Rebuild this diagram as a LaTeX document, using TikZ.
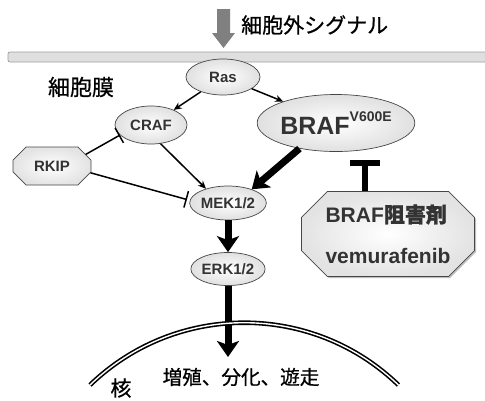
\documentclass[tikz,border=0pt]{standalone}
\usepackage{fontspec}
\setmainfont{Liberation Sans}
\newfontfamily\jp{Noto Sans CJK JP}[FakeBold=0.8]
\newfontfamily\jpb{Noto Sans CJK JP}[FakeBold=1.2]
\usetikzlibrary{shapes.geometric,shapes.misc,arrows.meta,shadows,calc}
\begin{document}
\begin{tikzpicture}[x=1pt,y=-1pt,
  mol/.style={ellipse, draw=gray!55!black, line width=0.7pt, inner color=white, outer color=gray!24,
    text=black!80, font=\fontsize{15}{15}\selectfont\bfseries, inner sep=0pt},
  octo/.style={chamfered rectangle, draw=gray!55!black, line width=0.7pt, inner color=white, outer color=gray!22,
    text=black!80, inner sep=0pt},
  actarrow/.style={line width=1.5pt, -{Stealth[length=8pt,width=7pt]}},
  bigarrow/.style={line width=7pt, -{Stealth[length=16pt,width=22pt,inset=4pt]}},
  inhline/.style={line width=1.5pt, -{Bar[width=17pt]}},
  biginh/.style={line width=6pt, -{Bar[width=30pt]}},
  nucl/.style={draw=black, line width=1.6pt, double=white, double distance=1.4pt},
  jplabel/.style={font=\jp\fontsize{21}{21}\selectfont, text=black, inner sep=0pt}
]
\useasboundingbox (0,0) rectangle (485,400);
% extracellular signal arrow
\fill[black!50] (217,9) -- (230,9) -- (230,33) -- (235,33) -- (223.5,48) -- (212,33) -- (217,33) -- cycle;
\node[jplabel, anchor=west] (signal) at (241,25) {細胞外シグナル};
% membrane
\draw[draw=gray!75, fill=gray!25, line width=0.8pt, rounded corners=2pt] (8,52) rectangle (492,62);
\node[jplabel, font=\jp\fontsize{22}{22}\selectfont] (memb) at (81,87) {細胞膜};
% nodes
\node[mol, minimum width=74pt, minimum height=36pt] (ras) at (223,77) {Ras};
\node[mol, minimum width=72pt, minimum height=38pt] (craf) at (151,125) {CRAF};
\node[mol, minimum width=142pt, minimum height=57pt, font=\fontsize{25}{25}\selectfont\bfseries] (braf) at (336,123)
  {BRAF\raisebox{13pt}{\fontsize{14}{14}\selectfont V600E}};
\node[octo, minimum width=78pt, minimum height=38pt, chamfered rectangle xsep=8pt, chamfered rectangle ysep=8pt] (rkip) at (52,166) {\fontsize{15}{15}\selectfont\bfseries RKIP};
\node[mol, minimum width=74pt, minimum height=34pt] (mek) at (228,203) {MEK1/2};
\node[mol, minimum width=74pt, minimum height=33pt] (erk) at (228,269) {ERK1/2};
\node[octo, minimum width=173pt, minimum height=78pt, chamfered rectangle xsep=13pt, chamfered rectangle ysep=13pt,
  drop shadow={shadow xshift=1.5pt, shadow yshift=-1.5pt, fill=gray, opacity=0.5}, align=left,
  font=\fontsize{21}{41}\selectfont\bfseries] (inhib) at (388,234)
  {BRAF{\jpb 阻害剤}\\vemurafenib};
% connectors
\draw[actarrow] (ras) -- (craf);
\draw[actarrow] (ras) -- (braf);
\draw[actarrow] (craf.-63) -- (mek.147);
\draw[inhline] (rkip.19) -- (craf.198);
\draw[inhline, shorten >=3pt] (rkip.-10) -- (mek.176);
\draw[bigarrow] (braf.215) -- (mek.30);
\draw[bigarrow] (mek) -- (erk);
\coordinate (tb) at (365,160);
\draw[biginh] (inhib.north -| tb) -- (tb);
\coordinate (nuc) at (228,357);
\draw[bigarrow] (erk) -- (nuc);
% nucleus
\draw[nucl] (90,385) arc[start angle=-134, end angle=-46, radius=222];
\node[jplabel, font=\jp\fontsize{19.6}{19.6}\selectfont] (resp) at (241,377) {増殖、分化、遊走};
\node[jplabel, font=\jp\fontsize{21}{21}\selectfont] (nucleus) at (121,388) {核};
\end{tikzpicture}
\end{document}
